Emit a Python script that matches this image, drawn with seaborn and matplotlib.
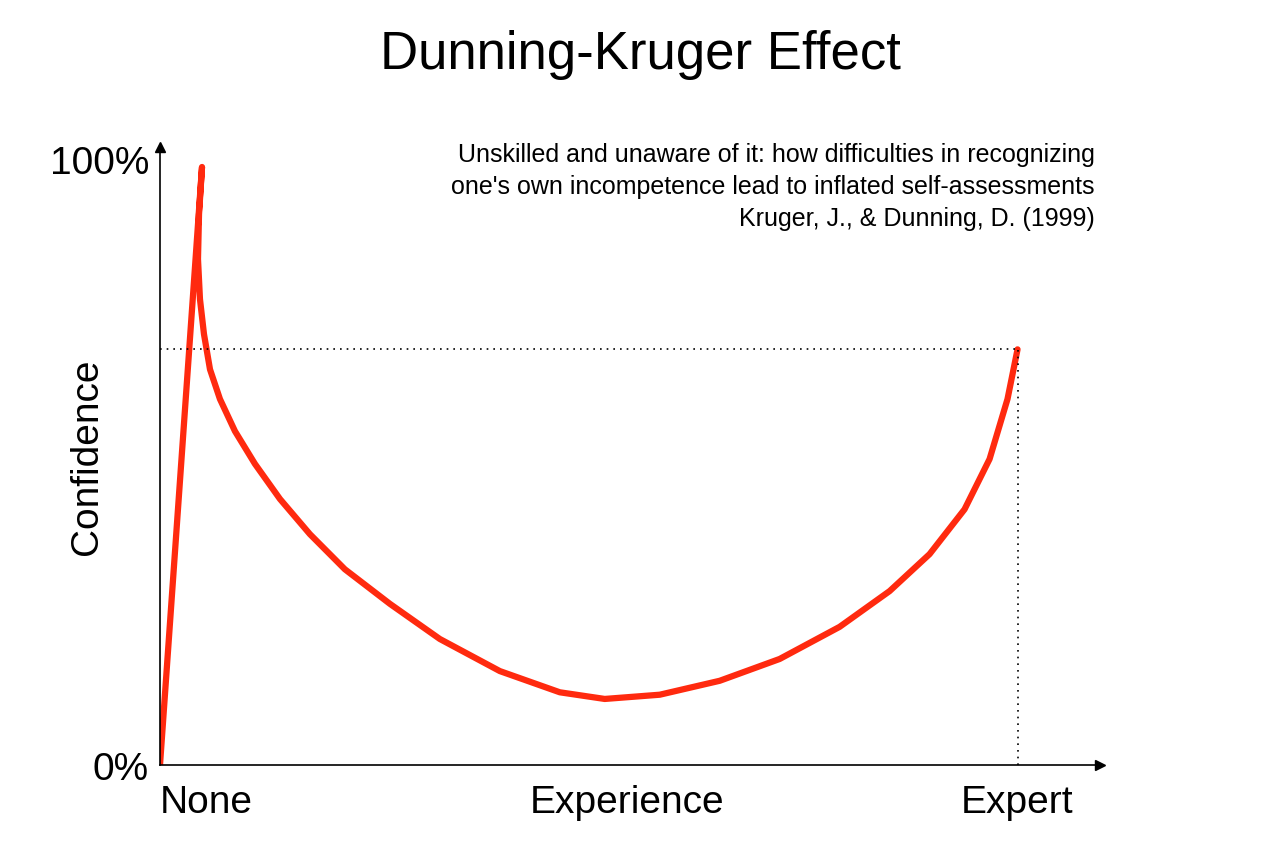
import matplotlib
matplotlib.use("Agg")
import matplotlib.pyplot as plt
import seaborn as sns
import pandas as pd

sns.set_style("white")
plt.rcParams['font.family'] = ['Liberation Sans', 'DejaVu Sans']

# curve: experience (fraction of expert), confidence (%)
experience = [0.0, 0.049, 0.0455, 0.0443, 0.0466, 0.0513, 0.0583, 0.0699, 0.0874, 0.1107,
              0.1399, 0.1748, 0.2156, 0.2681, 0.3263, 0.3963, 0.4662, 0.5186, 0.5828,
              0.6527, 0.7226, 0.7925, 0.8508, 0.8974, 0.9382, 0.9674, 0.9883, 1.0]
confidence = [0.0, 98.7, 90.9, 83.5, 76.9, 71.1, 65.3, 60.4, 55.1, 49.7,
              43.9, 38.1, 32.3, 26.6, 20.8, 15.5, 12.0, 10.9, 11.6,
              13.9, 17.5, 22.8, 28.7, 34.8, 42.2, 50.5, 60.4, 68.6]
expert_conf = 68.6
xticks = [0.0, 0.545, 1.0]
xlabels = ["None", "Experience", "Expert"]

df = pd.DataFrame({"x": experience, "y": confidence})

fig = plt.figure(figsize=(12.8, 8.53), dpi=100)
ax = fig.add_axes([0.125, 0.102, 0.734, 0.7245])
sns.lineplot(data=df, x="x", y="y", sort=False, color="#ff2a0f", linewidth=4.5, ax=ax)
ax.set_xlim(0, 1.0956)
ax.set_ylim(0, 102)
ax.plot([0, 1.0], [expert_conf, expert_conf], ls=(0, (1, 3)), color="black", lw=1.2)
ax.plot([1.0, 1.0], [0, expert_conf], ls=(0, (1, 3)), color="black", lw=1.2)
for s in ["top", "right"]:
    ax.spines[s].set_visible(False)
for s in ["left", "bottom"]:
    ax.spines[s].set_color("black")
    ax.spines[s].set_linewidth(1.2)
ax.plot(1, 0, ">k", transform=ax.get_yaxis_transform(), clip_on=False, markersize=7)
ax.plot(0, 1, "^k", transform=ax.get_xaxis_transform(), clip_on=False, markersize=7)
ax.set_xticks(xticks)
ax.set_xticklabels(xlabels, fontsize=28, color="black")
ax.get_xticklabels()[0].set_ha("left")
ax.set_yticks([0, 100])
ax.set_yticklabels(["0%", "100%"], fontsize=28, color="black")
ax.tick_params(axis="x", length=0, pad=14)
ax.tick_params(axis="y", length=0, pad=8)
ax.set_xlabel("")
ax.set_ylabel("Confidence", fontsize=28, color="black", labelpad=-40)
fig.text(0.5, 0.935, "Dunning-Kruger Effect", ha="center", va="center", fontsize=38, color="black")
fig.text(0.855, 0.832, "Unskilled and unaware of it: how difficulties in recognizing\n"
         "one's own incompetence lead to inflated self-assessments\n"
         "Kruger, J., & Dunning, D. (1999)", ha="right", va="top", fontsize=18,
         linespacing=1.4, multialignment="right", color="black")
fig.savefig("out.png", dpi=100)
